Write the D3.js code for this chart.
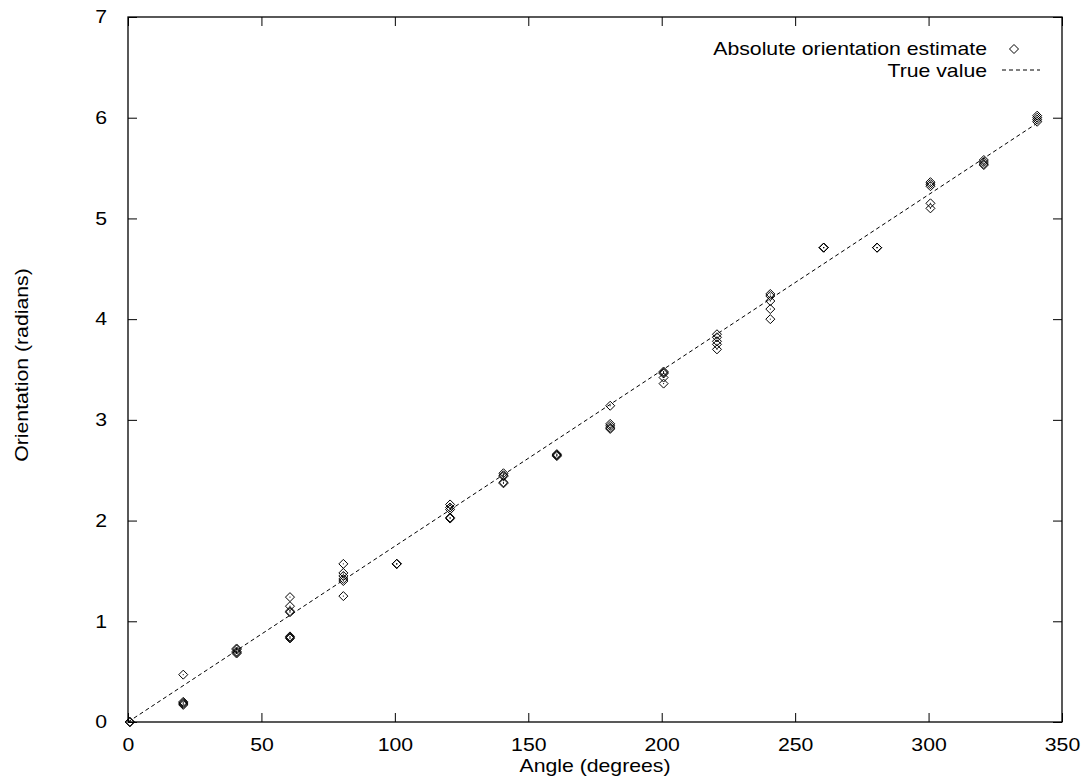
<!DOCTYPE html>
<html>

<head>
  <meta http-equiv="content-type" content="text/html; charset=utf-8">
  <title>Absolute orientation estimate</title>
  <style>
    body { margin: 0; background: #fff; }
    svg#canvas { display: block; font-family: "Liberation Sans", Arial, sans-serif; }
  </style>
</head>

<body>
  <svg id="canvas"></svg>

  <script src="https://cdnjs.cloudflare.com/ajax/libs/d3/7.8.5/d3.min.js"></script>
  <script>

    const angles = [0.7, 20.7, 40.7, 60.7, 80.7, 100.7, 120.7, 140.7, 160.7, 180.7,
      200.7, 220.7, 240.7, 260.7, 280.7, 300.7, 320.7, 340.7];
    const estimates = [
      [0.00, 0.00, 0.00],
      [0.47, 0.20, 0.19, 0.18, 0.17],
      [0.73, 0.72, 0.70, 0.69, 0.68],
      [1.24, 1.15, 1.10, 1.09, 0.85, 0.84, 0.83],
      [1.57, 1.48, 1.45, 1.42, 1.40, 1.25],
      [1.57, 1.57, 1.57],
      [2.16, 2.13, 2.11, 2.03, 2.02],
      [2.47, 2.45, 2.44, 2.38, 2.37],
      [2.66, 2.65, 2.64, 2.65],
      [3.14, 2.96, 2.94, 2.92, 2.91],
      [3.48, 3.47, 3.46, 3.42, 3.36],
      [3.85, 3.82, 3.78, 3.75, 3.70],
      [4.25, 4.23, 4.18, 4.10, 4.00],
      [4.71, 4.71, 4.71],
      [4.71, 4.71, 4.71],
      [5.36, 5.34, 5.32, 5.15, 5.10],
      [5.58, 5.56, 5.54, 5.53],
      [6.02, 6.00, 5.98, 5.96]
    ];
    const trueLine = [[0, 0], [340, 5.934]];
    const xTicks = [0, 50, 100, 150, 200, 250, 300, 350];
    const yTicks = [0, 1, 2, 3, 4, 5, 6, 7];
    const legendLabels = ["Absolute orientation estimate", "True value"];

    const W = 1087, H = 780;
    const plot = { left: 128, right: 1062, top: 17, bottom: 722 };
    const stretch = 1.18; // the original font is wider than Liberation Sans

    const svg = d3.select("svg#canvas").attr("width", W).attr("height", H);

    const x = d3.scaleLinear().domain([0, 350]).range([plot.left, plot.right]);
    const y = d3.scaleLinear().domain([0, 7]).range([plot.bottom, plot.top]);

    const points = [];
    angles.forEach((a, i) => estimates[i].forEach(v => points.push({ a: a, v: v })));

    const diamond = (cx, cy, r) => "M" + cx + "," + (cy - r) + "L" + (cx + r) + "," + cy +
      "L" + cx + "," + (cy + r) + "L" + (cx - r) + "," + cy + "Z";

    // move x/y into a transform so the glyphs can be widened around their anchor
    const widen = sel => sel.each(function () {
      const t = d3.select(this);
      const tx = +t.attr("x") || 0, ty = +t.attr("y") || 0;
      const pre = t.attr("transform") || "";
      t.attr("x", 0).attr("y", 0)
        .attr("transform", pre + " translate(" + tx + "," + ty + ") scale(" + stretch + ",1)");
    });

    // true value line
    svg.append("path")
      .attr("d", d3.line().x(d => x(d[0])).y(d => y(d[1]))(trueLine))
      .attr("fill", "none")
      .attr("stroke", "#000")
      .attr("stroke-width", 1)
      .attr("stroke-dasharray", "4,3");

    // estimates
    const pts = svg.append("g");
    pts.selectAll("path")
      .data(points)
      .enter().append("path")
      .attr("d", d => diamond(x(d.a), y(d.v), 4.5))
      .attr("fill", "none")
      .attr("stroke", "#000")
      .attr("stroke-width", 1);
    pts.selectAll("rect")
      .data(points)
      .enter().append("rect")
      .attr("x", d => x(d.a) - 0.5)
      .attr("y", d => y(d.v) - 0.5)
      .attr("width", 1)
      .attr("height", 1)
      .attr("fill", "#000");

    // axes (ticks inward, mirrored on top and right)
    const axisStyle = g => {
      g.select(".domain").remove();
      g.selectAll("line").attr("stroke", "#000");
      g.selectAll("text").attr("font-size", 18).attr("fill", "#000")
        .attr("font-family", "'Liberation Sans', Arial, sans-serif")
        .call(widen);
    };

    svg.append("g")
      .attr("transform", "translate(0," + plot.bottom + ")")
      .call(d3.axisBottom(x).tickValues(xTicks).tickSize(-9).tickPadding(16).tickFormat(d3.format("d")))
      .call(axisStyle);
    svg.append("g")
      .attr("transform", "translate(0," + plot.top + ")")
      .call(d3.axisTop(x).tickValues(xTicks).tickSize(-9).tickFormat(""))
      .call(axisStyle);
    svg.append("g")
      .attr("transform", "translate(" + plot.left + ",0)")
      .call(d3.axisLeft(y).tickValues(yTicks).tickSize(-9).tickPadding(21).tickFormat(d3.format("d")))
      .call(axisStyle);
    svg.append("g")
      .attr("transform", "translate(" + plot.right + ",0)")
      .call(d3.axisRight(y).tickValues(yTicks).tickSize(-9).tickFormat(""))
      .call(axisStyle);

    svg.append("rect")
      .attr("x", plot.left).attr("y", plot.top)
      .attr("width", plot.right - plot.left).attr("height", plot.bottom - plot.top)
      .attr("fill", "none").attr("stroke", "#000").attr("stroke-width", 1.3);

    // axis titles
    svg.append("text")
      .attr("x", (plot.left + plot.right) / 2).attr("y", 772)
      .attr("text-anchor", "middle").attr("font-size", 18)
      .text("Angle (degrees)")
      .call(widen);
    svg.append("text")
      .attr("transform", "translate(28," + 365 + ") rotate(-90) scale(" + stretch + ",1)")
      .attr("text-anchor", "middle").attr("font-size", 18)
      .text("Orientation (radians)");

    // legend
    const legend = svg.append("g");
    legend.selectAll("text")
      .data(legendLabels)
      .enter().append("text")
      .attr("x", 987)
      .attr("y", (d, i) => 55 + i * 21.5)
      .attr("text-anchor", "end")
      .attr("font-size", 18)
      .text(d => d)
      .call(widen);
    legend.append("path")
      .attr("d", diamond(1014, 49, 4.5))
      .attr("fill", "none").attr("stroke", "#000");
    legend.append("line")
      .attr("x1", 1002).attr("x2", 1040).attr("y1", 70).attr("y2", 70)
      .attr("stroke", "#000").attr("stroke-dasharray", "4,3");

  </script>
</body>

</html>
